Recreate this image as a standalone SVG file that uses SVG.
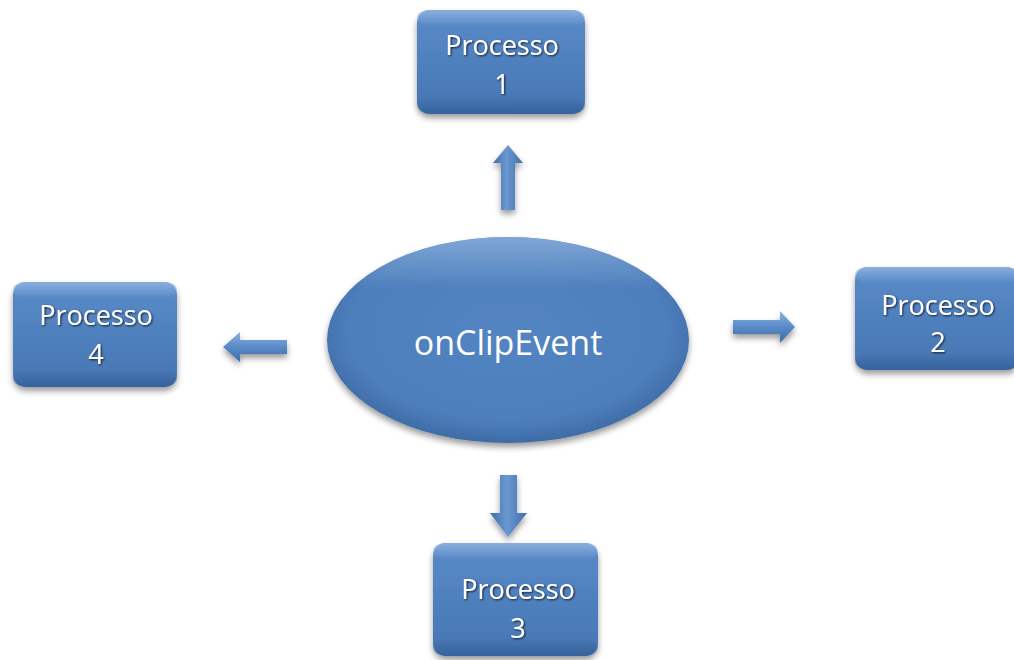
<svg xmlns="http://www.w3.org/2000/svg" width="1014" height="660" viewBox="0 0 1014 660">
<defs>
  <linearGradient id="boxFill" x1="0" y1="0" x2="0" y2="1">
    <stop offset="0" stop-color="#5B8BC9"/>
    <stop offset="0.5" stop-color="#4F80BE"/>
    <stop offset="1" stop-color="#4676B2"/>
  </linearGradient>
  <linearGradient id="bevelTop" x1="0" y1="0" x2="0" y2="1">
    <stop offset="0" stop-color="#8FB3E0" stop-opacity="0.9"/>
    <stop offset="1" stop-color="#8FB3E0" stop-opacity="0"/>
  </linearGradient>
  <linearGradient id="bevelBottom" x1="0" y1="0" x2="0" y2="1">
    <stop offset="0" stop-color="#2E5A92" stop-opacity="0"/>
    <stop offset="1" stop-color="#2E5A92" stop-opacity="0.7"/>
  </linearGradient>
  <radialGradient id="ellFill" cx="0.5" cy="0.45" r="0.55">
    <stop offset="0" stop-color="#5384C2"/>
    <stop offset="0.8" stop-color="#4E7FBD"/>
    <stop offset="1" stop-color="#3E6CA6"/>
  </radialGradient>
  <linearGradient id="ellTop" x1="0" y1="0" x2="0" y2="1">
    <stop offset="0" stop-color="#8DB0DC" stop-opacity="0.8"/>
    <stop offset="0.25" stop-color="#8DB0DC" stop-opacity="0"/>
  </linearGradient>
  <linearGradient id="arrV" x1="0" y1="0" x2="1" y2="0">
    <stop offset="0" stop-color="#3C6CA8"/>
    <stop offset="0.45" stop-color="#6C98D2"/>
    <stop offset="1" stop-color="#3F6EAA"/>
  </linearGradient>
  <linearGradient id="arrH" x1="0" y1="0" x2="0" y2="1">
    <stop offset="0" stop-color="#8CB1E0"/>
    <stop offset="0.5" stop-color="#5A8AC8"/>
    <stop offset="1" stop-color="#3C6BA6"/>
  </linearGradient>
  <filter id="shadow" x="-20%" y="-20%" width="140%" height="150%">
    <feGaussianBlur in="SourceAlpha" stdDeviation="3"/>
    <feOffset dx="0" dy="4" result="b"/>
    <feComponentTransfer><feFuncA type="linear" slope="0.4"/></feComponentTransfer>
    <feMerge><feMergeNode/><feMergeNode in="SourceGraphic"/></feMerge>
  </filter>
  <filter id="txtShadow" x="-10%" y="-20%" width="120%" height="150%">
    <feGaussianBlur in="SourceAlpha" stdDeviation="0.8"/>
    <feOffset dx="0.6" dy="0.8" result="o"/>
    <feComponentTransfer><feFuncA type="linear" slope="0.8"/></feComponentTransfer>
    <feMerge><feMergeNode/><feMergeNode in="SourceGraphic"/></feMerge>
  </filter>
</defs>
<style>
  .box { fill: url(#boxFill); }
  .btop { fill: url(#bevelTop); }
  .bbot { fill: url(#bevelBottom); }
  .lbl { font-family: "Open Sans", "Liberation Sans", sans-serif; font-size: 27px; fill: #FFFFFF; text-anchor: middle; filter: url(#txtShadow); }
  .main { font-family: "Open Sans", "Liberation Sans", sans-serif; font-size: 34px; fill: #FFFFFF; text-anchor: middle; }
</style>
<rect width="1014" height="660" fill="#FFFFFF"/>

<g id="connectors">
  <polygon points="508,145 523,163 515,163 515,210 501,210 501,163 493,163" fill="url(#arrV)" filter="url(#shadow)"/>
  <polygon points="795,327 780,343 780,334 733,334 733,320 780,320 780,311" fill="url(#arrH)" filter="url(#shadow)"/>
  <polygon points="508,537 527,513 517,513 517,475 500,475 500,513 490,513" fill="url(#arrV)" filter="url(#shadow)"/>
  <polygon points="223,347 240,332 240,340 287,340 287,354 240,354 240,362" fill="url(#arrH)" filter="url(#shadow)"/>
</g>

<g id="center">
  <ellipse cx="508" cy="340" rx="181" ry="103" fill="url(#ellFill)" filter="url(#shadow)"/>
  <ellipse cx="508" cy="340" rx="181" ry="103" fill="url(#ellTop)"/>
  <text class="main" x="508" y="355">onClipEvent</text>
</g>

<g id="p1">
  <rect class="box" x="417" y="10" width="168" height="104" rx="13" filter="url(#shadow)"/>
  <rect class="btop" x="417" y="10" width="168" height="16" rx="13"/>
  <rect class="bbot" x="417" y="96" width="168" height="18" rx="13"/>
  <text class="lbl" x="502" y="55">Processo</text>
  <text class="lbl" x="502" y="94">1</text>
</g>

<g id="p2">
  <rect class="box" x="855" y="267" width="164" height="103" rx="13" filter="url(#shadow)"/>
  <rect class="btop" x="855" y="267" width="164" height="16" rx="13"/>
  <rect class="bbot" x="855" y="352" width="164" height="18" rx="13"/>
  <text class="lbl" x="938" y="315">Processo</text>
  <text class="lbl" x="938" y="352">2</text>
</g>

<g id="p3">
  <rect class="box" x="433" y="543" width="165" height="113" rx="13" filter="url(#shadow)"/>
  <rect class="btop" x="433" y="543" width="165" height="16" rx="13"/>
  <rect class="bbot" x="433" y="638" width="165" height="18" rx="13"/>
  <text class="lbl" x="518" y="599">Processo</text>
  <text class="lbl" x="518" y="638">3</text>
</g>

<g id="p4">
  <rect class="box" x="13" y="282" width="164" height="105" rx="13" filter="url(#shadow)"/>
  <rect class="btop" x="13" y="282" width="164" height="16" rx="13"/>
  <rect class="bbot" x="13" y="369" width="164" height="18" rx="13"/>
  <text class="lbl" x="96" y="325">Processo</text>
  <text class="lbl" x="96" y="364">4</text>
</g>
</svg>
